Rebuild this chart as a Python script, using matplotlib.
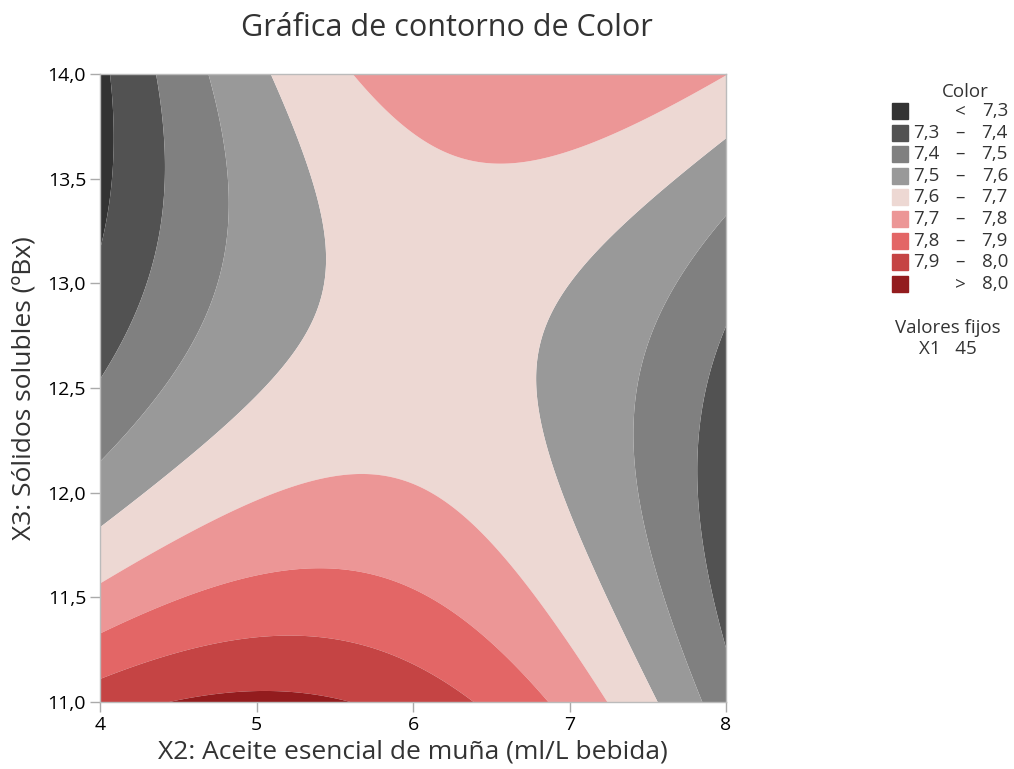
import numpy as np
import matplotlib
matplotlib.use("Agg")
import matplotlib.pyplot as plt

plt.rcParams['font.family'] = ['Open Sans', 'DejaVu Sans']

# fitted response surface (coded units), X1 fixed at 45
x2_center, x2_half = 6.0, 2.0
x3_center, x3_half = 12.5, 1.5
coef_names = ["b0", "b2", "b3", "b22", "b33", "b23"]
coef_values = [7.6490, -0.0214, -0.1043, -0.2611, 0.2060, 0.2342]

levels = [6.0, 7.3, 7.4, 7.5, 7.6, 7.7, 7.8, 7.9, 8.0, 9.0]
colors = ["#333333", "#525252", "#808080", "#999999", "#EDD8D3",
          "#EC9696", "#E36666", "#C54444", "#931C1E"]
legend_lo = ["", "7,3", "7,4", "7,5", "7,6", "7,7", "7,8", "7,9", ""]
legend_mid = ["<", "–", "–", "–", "–", "–", "–", "–", ">"]
legend_hi = ["7,3", "7,4", "7,5", "7,6", "7,7", "7,8", "7,9", "8,0", "8,0"]

x_ticks = [4, 5, 6, 7, 8]
y_ticks = [11.0, 11.5, 12.0, 12.5, 13.0, 13.5, 14.0]

b = dict(zip(coef_names, coef_values))
x2 = np.linspace(4, 8, 400)
x3 = np.linspace(11, 14, 400)
X, Y = np.meshgrid(x2, x3)
U = (X - x2_center) / x2_half
V = (Y - x3_center) / x3_half
Z = (b["b0"] + b["b2"] * U + b["b3"] * V + b["b22"] * U * U
     + b["b33"] * V * V + b["b23"] * U * V)

fig = plt.figure(figsize=(10.14, 7.69), dpi=100)
ax = fig.add_axes([100 / 1014, 1 - 702 / 769, 626 / 1014, 628 / 769])
ax.contourf(X, Y, Z, levels=levels, colors=colors, antialiased=True)
ax.set_xlim(4, 8)
ax.set_ylim(11, 14)

ax.set_xticks(x_ticks)
ax.set_xticklabels([str(t) for t in x_ticks])
ax.set_yticks(y_ticks)
ax.set_yticklabels([f"{t:.1f}".replace(".", ",") for t in y_ticks])
ax.tick_params(axis="both", length=7, width=1, color="#aaaaaa",
               labelsize=14, labelcolor="black", pad=3)
for s in ax.spines.values():
    s.set_color("#bbbbbb")
    s.set_linewidth(1)

ax.set_xlabel("X2: Aceite esencial de muña (ml/L bebida)", fontsize=19,
              color="#333333", labelpad=4)
ax.set_ylabel("X3: Sólidos solubles (ºBx)", fontsize=19, color="#333333",
              labelpad=8)

fig.text(447 / 1014, 1 - 28 / 769, "Gráfica de contorno de Color",
         fontsize=22, color="#333333", ha="center", va="center")

# legend
fs = 13.5
fig.text(965 / 1014, 1 - 92 / 769, "Color", fontsize=fs, color="#333333",
         ha="center", va="center")
for i in range(len(colors)):
    yc = 111 + i * 21.6
    fig.patches.append(plt.Rectangle((892 / 1014, 1 - (yc + 8) / 769),
                                     16 / 1014, 16 / 769, color=colors[i],
                                     transform=fig.transFigure))
    fig.text(926 / 1014, 1 - yc / 769, legend_lo[i], fontsize=fs,
             color="#333333", ha="center", va="center")
    fig.text(960 / 1014, 1 - yc / 769, legend_mid[i], fontsize=fs,
             color="#333333", ha="center", va="center")
    fig.text(1008 / 1014, 1 - yc / 769, legend_hi[i], fontsize=fs,
             color="#333333", ha="right", va="center")

fig.text(948 / 1014, 1 - 328 / 769, "Valores fijos", fontsize=fs,
         color="#333333", ha="center", va="center")
fig.text(948 / 1014, 1 - 349 / 769, "X1   45", fontsize=fs,
         color="#333333", ha="center", va="center")

fig.savefig("out.png", dpi=100)
